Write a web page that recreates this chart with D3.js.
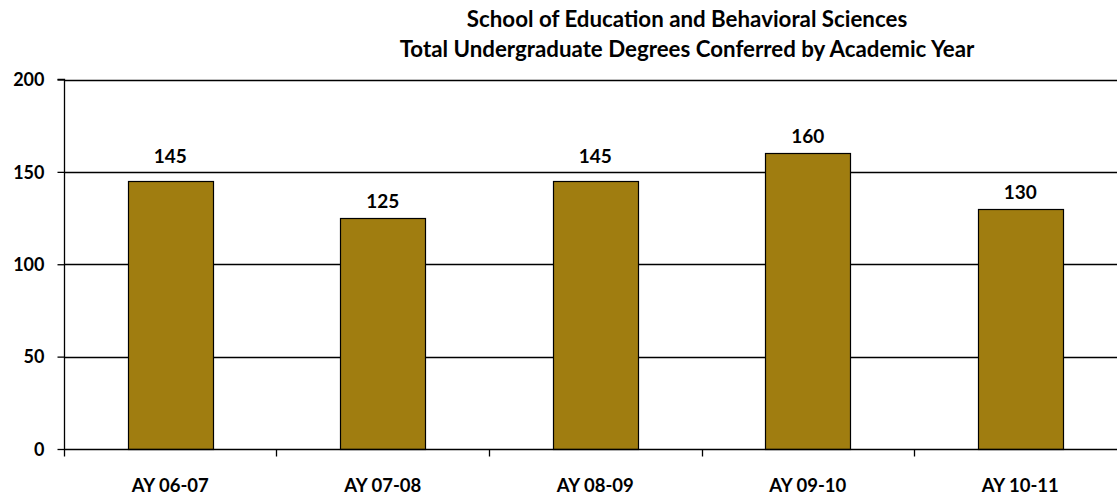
<!DOCTYPE html>
<html><head><meta charset="utf-8">
<script src="https://cdn.jsdelivr.net/npm/d3@7"></script>
<style>
html,body{margin:0;padding:0;background:#fff;}
svg{display:block;}
text{font-family:Lato,"Open Sans",sans-serif;font-weight:bold;fill:#000;}
</style></head>
<body>
<svg id="chart" width="1117" height="499"></svg>
<script>
const categories = ["AY 06-07","AY 07-08","AY 08-09","AY 09-10","AY 10-11"];
const values = [145,125,145,160,130];
const yTicks = [0,50,100,150,200];
const titleLines = ["School of Education and Behavioral Sciences","Total Undergraduate Degrees Conferred by Academic Year"];

const svg = d3.select("#chart");
const mLeft = 64, mRight = 1126.5, mTop = 79.5, mBottom = 449;

const x = d3.scaleBand().domain(categories).range([mLeft,mRight]).paddingInner(0.6).paddingOuter(0.3);
const y = d3.scaleLinear().domain([0,200]).range([mBottom,mTop]);

// gridlines
svg.append("g").selectAll("line").data(yTicks.filter(d=>d>0)).join("line")
  .attr("x1",mLeft).attr("x2",mRight)
  .attr("y1",d=>Math.round(y(d))+0.5).attr("y2",d=>Math.round(y(d))+0.5)
  .attr("stroke","#000").attr("stroke-width",1.3);

// bars
svg.append("g").selectAll("rect").data(values).join("rect")
  .attr("x",(d,i)=>Math.round(x(categories[i]))+0.5)
  .attr("y",d=>Math.round(y(d))+0.5)
  .attr("width",Math.round(x.bandwidth()))
  .attr("height",d=>Math.round(y(0))-Math.round(y(d)))
  .attr("fill","#A07D10").attr("stroke","#000").attr("stroke-width",1.2);

// value labels (moved above a gridline when they would sit on it)
function labelBaseline(v){
  let b = y(v) - 10;
  yTicks.forEach(t => { const g = y(t); if (g > b - 15 && g < b + 4) b = g - 9; });
  return b;
}
svg.append("g").selectAll("text").data(values).join("text")
  .attr("x",(d,i)=>x(categories[i])+x.bandwidth()/2)
  .attr("y",d=>labelBaseline(d))
  .attr("text-anchor","middle").attr("font-size",19)
  .text(d=>d);

// y axis
const yAxis = d3.axisLeft(y).tickValues(yTicks).tickSize(7).tickPadding(13);
const gy = svg.append("g").attr("transform",`translate(${mLeft+0.5},0)`).call(yAxis);
gy.select(".domain").attr("stroke","#000").attr("stroke-width",1.3).attr("d",`M-7,${y(200)}H0V${y(0)}`);
gy.selectAll(".tick line").attr("stroke","#000").attr("stroke-width",1.3);
gy.selectAll(".tick text").attr("font-size",18).attr("font-family","Lato,sans-serif").attr("font-weight","bold").attr("dy","0.35em");

// x axis
const bandStep = x.step();
const xAxis = d3.axisBottom(x).tickSize(0).tickPadding(29);
const gx = svg.append("g").attr("transform",`translate(0,${Math.round(mBottom)+0.5})`).call(xAxis);
gx.select(".domain").attr("stroke","#000").attr("stroke-width",1.3).attr("d",`M${mLeft},0H${mRight}`);
gx.selectAll(".tick text").attr("font-size",18.5).attr("font-family","Lato,sans-serif").attr("font-weight","bold");
// category separator ticks
const sepIdx = d3.range(categories.length+1);
gx.append("g").selectAll("line").data(sepIdx).join("line")
  .attr("x1",i=>Math.round(x(categories[0]) - x.paddingOuter()*bandStep + i*bandStep)+0.5)
  .attr("x2",i=>Math.round(x(categories[0]) - x.paddingOuter()*bandStep + i*bandStep)+0.5)
  .attr("y1",0).attr("y2",7).attr("stroke","#000").attr("stroke-width",1.3);

// title
svg.append("g").selectAll("text").data(titleLines).join("text")
  .attr("x",687).attr("y",(d,i)=>27+i*30)
  .attr("text-anchor","middle").attr("font-size",22.3)
  .text(d=>d);
</script>
</body></html>
